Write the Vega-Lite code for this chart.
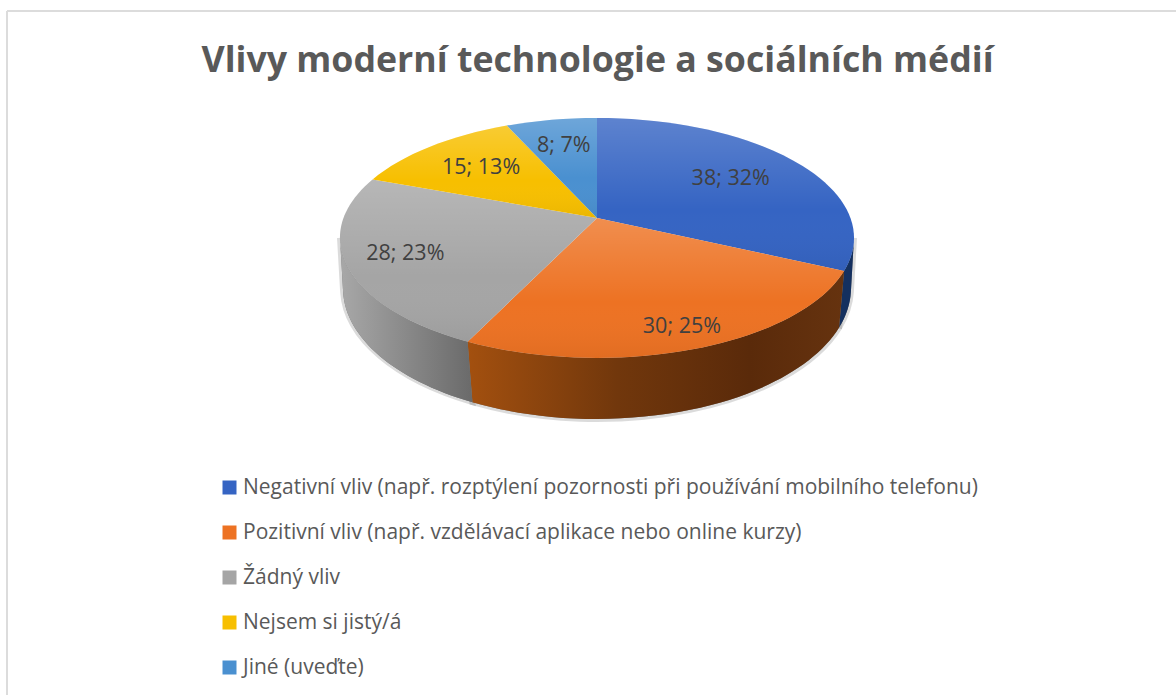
{
"$schema":"https://vega.github.io/schema/vega-lite/v6.json",
"width":1176,"height":695,"padding":0,"autosize":{"type":"none"},"background":"white",
"title":{"text":"Vlivy moderní technologie a sociálních médií","font":"Open Sans","fontSize":35.7,"fontWeight":"bold","color":"#595959","anchor":"middle","dx":9.5,"dy":112,"baseline":"alphabetic"},
"config":{"view":{"stroke":null}},
"datasets":{"vlivy":[
{"kategorie":"Negativní vliv (např. rozptýlení pozornosti při používání mobilního telefonu)","pocet":38,"procenta":32},
{"kategorie":"Pozitivní vliv (např. vzdělávací aplikace nebo online kurzy)","pocet":30,"procenta":25},
{"kategorie":"Žádný vliv","pocet":28,"procenta":23},
{"kategorie":"Nejsem si jistý/á","pocet":15,"procenta":13},
{"kategorie":"Jiné (uveďte)","pocet":8,"procenta":7}
]},
"data":{"name":"vlivy"},
"transform":[
{"joinaggregate":[{"op":"sum","field":"pocet","as":"total"}]},
{"window":[{"op":"sum","field":"pocet","as":"cum"}],"sort":[{"field":"pocet","order":"descending"}]},
{"calculate":"2*PI*(datum.cum-datum.pocet)/datum.total","as":"a0"},
{"calculate":"2*PI*datum.cum/datum.total","as":"a1"},
{"calculate":"round(100*253.4*sin(datum.a0)/(1+cos(datum.a0)/6))/100","as":"tx0"},
{"calculate":"round(-100*116.7*cos(datum.a0)/(1+cos(datum.a0)/6))/100","as":"ty0"},
{"calculate":"round(100*253.4*sin(datum.a1)/(1+cos(datum.a1)/6))/100","as":"tx1"},
{"calculate":"round(-100*116.7*cos(datum.a1)/(1+cos(datum.a1)/6))/100","as":"ty1"},
{"calculate":"'M0,0L'+datum.tx0+','+datum.ty0+'A257,120,0,'+(datum.a1-datum.a0>PI?1:0)+',1,'+datum.tx1+','+datum.ty1+'Z'","as":"topPath"},
{"calculate":"max(datum.a0,acos(-1/6))","as":"s0"},
{"calculate":"min(datum.a1,2*PI-acos(-1/6))","as":"s1"},
{"calculate":"'M'+round(100*253.4*sin(datum.s0)/(1+cos(datum.s0)/6))/100+','+round(-100*116.7*cos(datum.s0)/(1+cos(datum.s0)/6))/100+'A257,120,0,0,1,'+round(100*253.4*sin(datum.s1)/(1+cos(datum.s1)/6))/100+','+round(-100*116.7*cos(datum.s1)/(1+cos(datum.s1)/6))/100+'L'+round(100*251.6*sin(datum.s1)/(1+0.137*cos(datum.s1)))/100+','+round(100*(52-128.6*cos(datum.s1)/(1+0.137*cos(datum.s1))))/100+'A254,131,0,0,0,'+round(100*251.6*sin(datum.s0)/(1+0.137*cos(datum.s0)))/100+','+round(100*(52-128.6*cos(datum.s0)/(1+0.137*cos(datum.s0))))/100+'Z'","as":"sidePath"},
{"calculate":"(datum.a0+datum.a1)/2","as":"mid"},
{"calculate":"cos(datum.mid)<0?0.72-0.15*cos(datum.mid):0.62+0.08*cos(datum.mid)","as":"r"},
{"calculate":"253.4*datum.r*sin(datum.mid)/(1+datum.r*cos(datum.mid)/6)","as":"lx"},
{"calculate":"116.7*datum.r*cos(datum.mid)/(1+datum.r*cos(datum.mid)/6)","as":"ly"},
{"calculate":"datum.pocet+'; '+datum.procenta+'%'","as":"popisek"}
],
"layer":[
{"data":{"values":[{"okraj":"horní"}]},"transform":[],"mark":{"type":"rule","color":"#dcdcdc","strokeWidth":2},"encoding":{
"x":{"datum":-590,"type":"quantitative","scale":{"domain":[-597,579],"nice":false,"zero":false},"axis":null},"x2":{"datum":579},
"y":{"datum":207,"type":"quantitative","scale":{"domain":[-477,218],"nice":false,"zero":false},"axis":null}}},
{"data":{"values":[{"okraj":"levý"}]},"transform":[],"mark":{"type":"rule","color":"#dcdcdc","strokeWidth":2},"encoding":{
"x":{"datum":-590,"type":"quantitative","axis":null},
"y":{"datum":207,"type":"quantitative","axis":null},"y2":{"datum":-477}}},
{"transform":[{"filter":"datum.s1>datum.s0"}],"mark":{"type":"point","filled":true,"opacity":1,"size":4,"fill":"#888888","stroke":"#000000","strokeOpacity":0.14,"strokeWidth":6},"encoding":{"x":{"datum":0,"type":"quantitative","axis":null},"y":{"datum":0,"type":"quantitative","axis":null},"shape":{"field":"sidePath","type":"nominal","scale":null,"legend":null}}},
{"transform":[{"filter":"datum.pocet==38"}],"mark":{"type":"point","filled":true,"opacity":1,"size":4,"fill":"#14305f"},"encoding":{"x":{"datum":0,"type":"quantitative","axis":null},"y":{"datum":0,"type":"quantitative","axis":null},"shape":{"field":"sidePath","type":"nominal","scale":null,"legend":null}}},
{"transform":[{"filter":"datum.pocet==30"}],"mark":{"type":"point","filled":true,"opacity":1,"size":4,"fill":{"gradient":"linear","x1":0,"y1":0,"x2":1,"y2":0,"stops":[{"offset":0,"color":"#a3500f"},{"offset":0.4,"color":"#71370c"},{"offset":0.75,"color":"#5a2a0a"},{"offset":1,"color":"#66330f"}]}},"encoding":{"x":{"datum":0,"type":"quantitative","axis":null},"y":{"datum":0,"type":"quantitative","axis":null},"shape":{"field":"sidePath","type":"nominal","scale":null,"legend":null}}},
{"transform":[{"filter":"datum.pocet==28"}],"mark":{"type":"point","filled":true,"opacity":1,"size":4,"fill":{"gradient":"linear","x1":0,"y1":0,"x2":1,"y2":0,"stops":[{"offset":0,"color":"#a8a8a8"},{"offset":1,"color":"#6a6a6a"}]}},"encoding":{"x":{"datum":0,"type":"quantitative","axis":null},"y":{"datum":0,"type":"quantitative","axis":null},"shape":{"field":"sidePath","type":"nominal","scale":null,"legend":null}}},
{"mark":{"type":"point","filled":true,"opacity":1,"size":4},"encoding":{"x":{"datum":0,"type":"quantitative","axis":null},"y":{"datum":0,"type":"quantitative","axis":null},
"shape":{"field":"topPath","type":"nominal","scale":null,"legend":null},
"color":{"field":"kategorie","type":"nominal","sort":null,"scale":{"domain":["Negativní vliv (např. rozptýlení pozornosti při používání mobilního telefonu)","Pozitivní vliv (např. vzdělávací aplikace nebo online kurzy)","Žádný vliv","Nejsem si jistý/á","Jiné (uveďte)"],"range":["#3564c3","#ed7223","#a5a5a5","#f7bf00","#4a90d0"]},
"legend":{"title":null,"orient":"none","legendX":219,"legendY":477,"symbolType":"square","symbolSize":196,"symbolStrokeWidth":0,"labelFont":"Open Sans","labelFontSize":21,"labelColor":"#595959","labelLimit":900,"rowPadding":23,"labelOffset":3}}}},
{"mark":{"type":"point","filled":true,"opacity":1,"size":4,"fill":{"gradient":"linear","x1":0,"y1":0,"x2":0,"y2":1,"stops":[{"offset":0,"color":"rgba(255,255,255,0.2)"},{"offset":0.6,"color":"rgba(255,255,255,0)"},{"offset":1,"color":"rgba(0,0,0,0.05)"}]}},"encoding":{"x":{"datum":0,"type":"quantitative","axis":null},"y":{"datum":0,"type":"quantitative","axis":null},"shape":{"field":"topPath","type":"nominal","scale":null,"legend":null}}},
{"mark":{"type":"text","font":"Open Sans","fontSize":21.5,"color":"#404040","align":"center","baseline":"middle"},"encoding":{
"x":{"field":"lx","type":"quantitative","axis":null},
"y":{"field":"ly","type":"quantitative","axis":null},
"text":{"field":"popisek","type":"nominal"}}}
]
}
